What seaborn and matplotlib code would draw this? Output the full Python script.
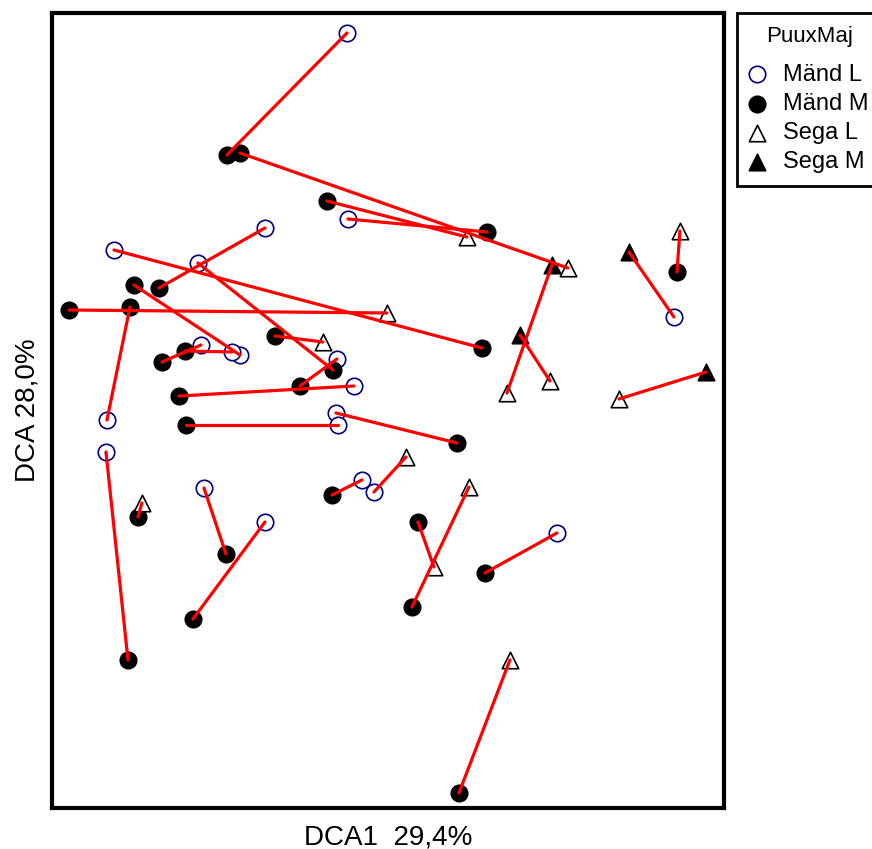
import seaborn as sns
import matplotlib.pyplot as plt
import pandas as pd

# one row per connected pair: first point -> second point
x1 = [2.95, 1.88, 2.75, 2.96, 2.13, 1.46, 0.17, 0.82, 1.33, 1.10, 0.78,
      2.23, 2.85, 1.27, 1.34, 2.84, 0.54, 0.90, 1.52, 2.13, 2.80, 3.22,
      3.66, 3.60, 4.33, 4.07, 4.68, 5.77, 6.25, 5.67, 0.62, 5.00]
y1 = [7.75, 6.55, 6.07, 5.89, 5.80, 5.45, 4.98, 5.23, 4.57, 4.46, 5.01,
      4.72, 4.49, 4.12, 3.83, 3.95, 3.56, 3.05, 3.20, 2.86, 3.13, 3.16,
      2.86, 2.01, 2.35, 0.15, 4.73, 5.56, 5.36, 4.09, 5.58, 5.43]
g1 = ["Mänd L", "Mänd M", "Mänd M", "Mänd L", "Mänd L", "Mänd L", "Mänd M",
      "Mänd M", "Mänd M", "Mänd M", "Mänd M", "Mänd M", "Mänd L", "Mänd M",
      "Mänd M", "Mänd L", "Mänd L", "Sega L", "Mänd L", "Mänd L", "Mänd M",
      "Mänd L", "Mänd M", "Mänd M", "Mänd M", "Mänd M", "Sega M", "Sega M",
      "Mänd M", "Sega L", "Mänd L", "Sega M"]

x2 = [1.75, 5.16, 4.15, 4.35, 1.07, 2.81, 3.35, 1.88, 1.80, 1.49, 0.55,
      2.71, 2.48, 3.02, 2.86, 4.05, 0.76, 0.86, 1.74, 1.41, 3.10, 3.54,
      3.82, 4.17, 5.05, 4.58, 4.98, 6.22, 6.28, 6.54, 4.30, 4.55]
y2 = [6.53, 5.40, 5.71, 5.76, 5.20, 4.38, 4.95, 4.53, 4.56, 4.63, 3.88,
      4.66, 4.22, 4.22, 3.83, 3.65, 1.48, 2.91, 2.54, 1.89, 3.28, 3.51,
      2.41, 3.21, 2.75, 1.48, 4.27, 4.91, 5.77, 4.36, 4.60, 4.15]
g2 = ["Mänd M", "Sega L", "Sega L", "Mänd M", "Mänd M", "Mänd M", "Sega L",
      "Mänd L", "Mänd L", "Mänd L", "Mänd L", "Sega L", "Mänd M", "Mänd L",
      "Mänd L", "Mänd M", "Mänd M", "Mänd M", "Mänd M", "Mänd M", "Mänd L",
      "Sega L", "Sega L", "Sega L", "Mänd L", "Sega L", "Sega L", "Mänd L",
      "Sega L", "Sega M", "Mänd M", "Sega L"]

groups = ["Mänd L", "Mänd M", "Sega L", "Sega M"]

n = len(x1)
df = pd.DataFrame({
    "pair": list(range(n)) * 2,
    "DCA1": x1 + x2,
    "DCA2": y1 + y2,
    "PuuxMaj": g1 + g2,
})

sns.set_style("white")
plt.rcParams["font.family"] = ["Liberation Sans", "DejaVu Sans"]
plt.rcParams["text.color"] = "black"
plt.rcParams["axes.labelcolor"] = "black"

fig = plt.figure(figsize=(8.72, 8.49), dpi=100)
ax = fig.add_axes([0.0596, 0.0483, 0.7706, 0.9364])

styles = {
    "Mänd L": dict(marker="o", color="white", edgecolor="#000080"),
    "Mänd M": dict(marker="o", color="black", edgecolor="black"),
    "Sega L": dict(marker="^", color="white", edgecolor="black"),
    "Sega M": dict(marker="^", color="black", edgecolor="black"),
}
for g in groups:
    sub = df[df["PuuxMaj"] == g]
    sns.scatterplot(data=sub, x="DCA1", y="DCA2", ax=ax, s=140,
                    linewidth=1.2, label=g, zorder=2, **styles[g])

sns.lineplot(data=df, x="DCA1", y="DCA2", units="pair", estimator=None,
             sort=False, color="red", linewidth=2.3, ax=ax, zorder=3,
             legend=False)

ax.set_xlim(0, 6.72)
ax.set_ylim(0, 7.95)
ax.set_xticks([])
ax.set_yticks([])
for sp in ax.spines.values():
    sp.set_visible(True)
    sp.set_color("black")
    sp.set_linewidth(3)
ax.set_xlabel("DCA1  29,4%", fontsize=20, labelpad=12)
ax.set_ylabel("DCA 28,0%", fontsize=20, labelpad=8)

leg = ax.legend(title="PuuxMaj", loc="upper left",
                bbox_to_anchor=(737 / 872, 836 / 849),
                bbox_transform=fig.transFigure, fontsize=17,
                title_fontsize=16, frameon=True, fancybox=False,
                framealpha=1, edgecolor="black", borderaxespad=0,
                labelspacing=0.3, handletextpad=0.8, handlelength=0.6,
                borderpad=0.55)
leg.get_frame().set_linewidth(2)
leg._legend_box.sep = 12

fig.savefig("out.png", dpi=100)
